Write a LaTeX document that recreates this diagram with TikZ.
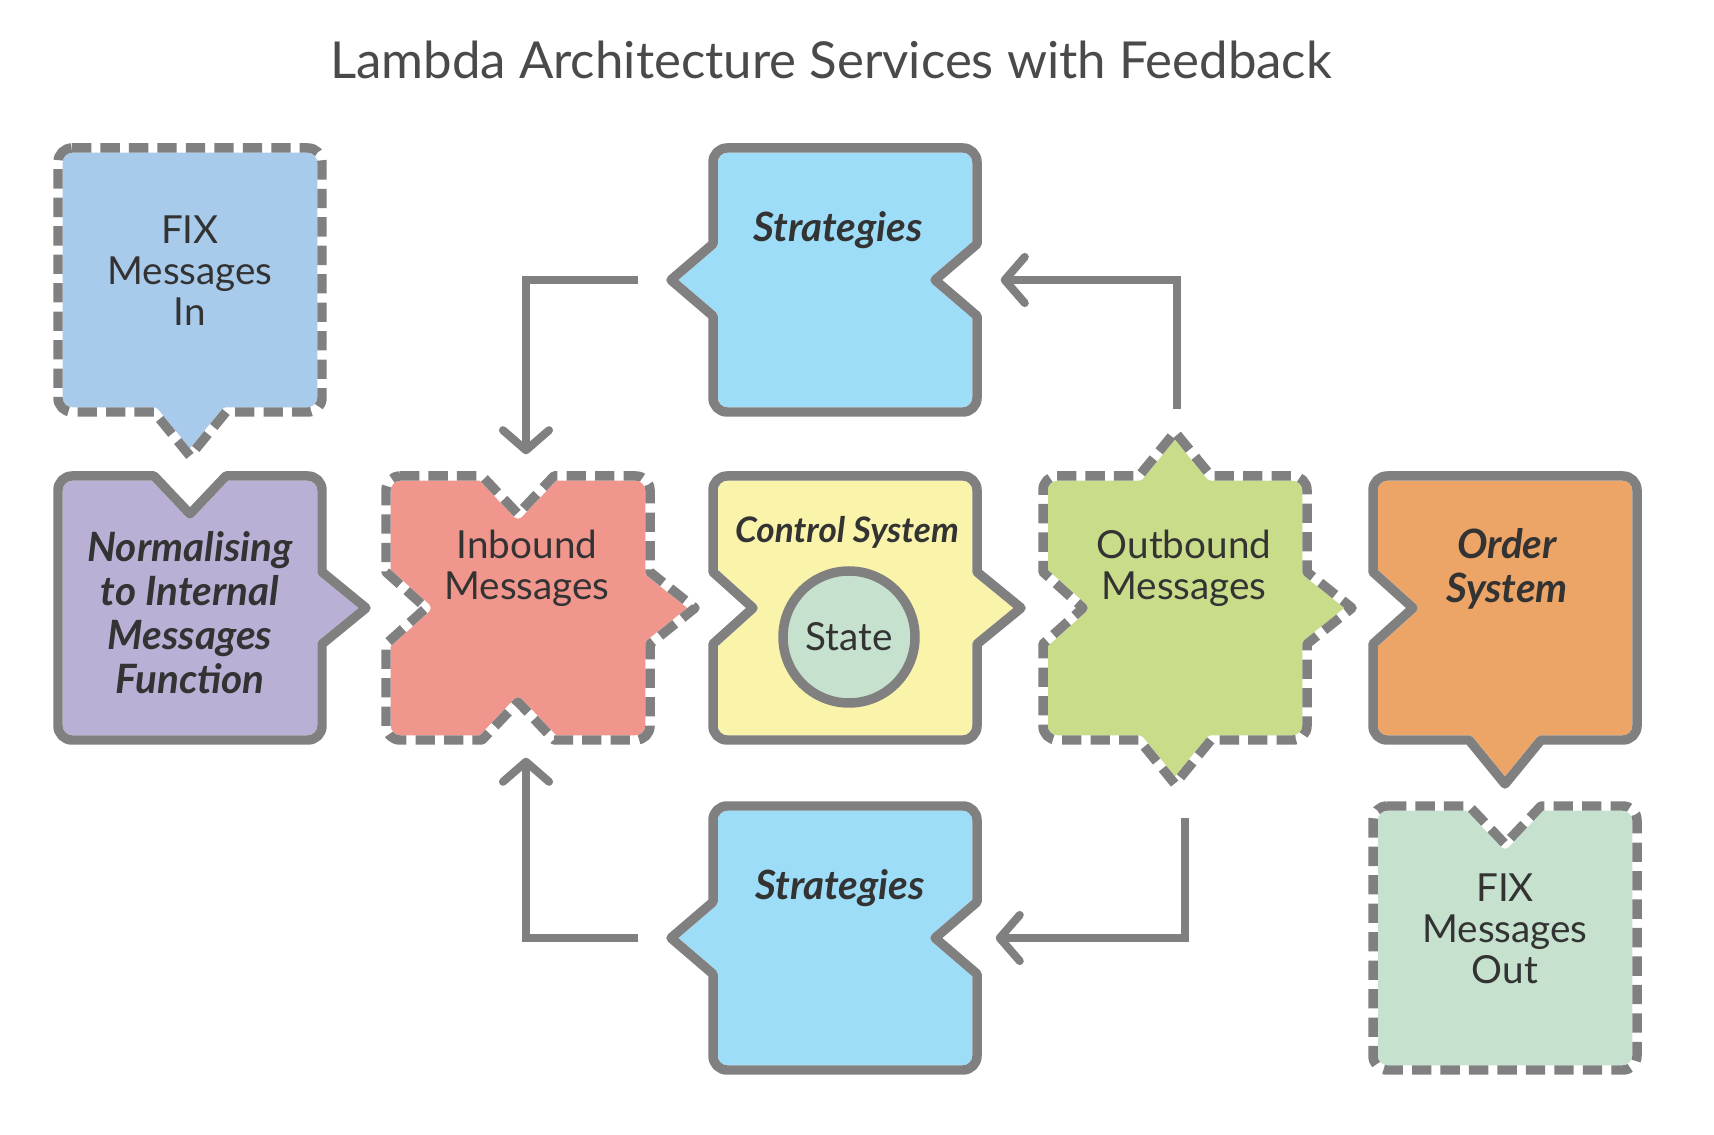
\documentclass[tikz,border=0pt]{standalone}
\usepackage{fontspec}
\setmainfont{Lato}
\usetikzlibrary{arrows.meta}

\definecolor{edgegrey}{HTML}{808080}
\definecolor{inkgrey}{HTML}{333333}
\definecolor{titlegrey}{HTML}{4A4A4A}
\definecolor{fixinblue}{HTML}{A9CBEB}
\definecolor{normlilac}{HTML}{BAB0D6}
\definecolor{inboundred}{HTML}{F0968D}
\definecolor{controlyellow}{HTML}{FAF3AA}
\definecolor{statemint}{HTML}{C6E2CF}
\definecolor{outboundgreen}{HTML}{C9DC8A}
\definecolor{orderorange}{HTML}{ECA567}
\definecolor{stratblue}{HTML}{9EDDF8}

% half size, corner radius, half width of a tab or notch
\newcommand{\hs}{1.32}
\newcommand{\rc}{0.14}
\newcommand{\tw}{0.36}
% depths: top, right, bottom, left (plus = tab, minus = notch)
\newcommand{\tileoutline}[4]{(-\hs+\rc,\hs) -- (-\tw,\hs) -- (0,{\hs+(#1)}) -- (\tw,\hs) -- (\hs-\rc,\hs) arc (90:0:\rc)
  -- (\hs,\tw) -- ({\hs+(#2)},0) -- (\hs,-\tw) -- (\hs,-\hs+\rc) arc (0:-90:\rc)
  -- (\tw,-\hs) -- (0,{-\hs-(#3)}) -- (-\tw,-\hs) -- (-\hs+\rc,-\hs) arc (-90:-180:\rc)
  -- (-\hs,-\tw) -- ({-\hs-(#4)},0) -- (-\hs,\tw) -- (-\hs,\hs-\rc) arc (180:90:\rc) -- cycle}
\newcommand{\tile}[7]{%
  \begin{scope}[shift={(#3)}]
    \filldraw[tileline, draw=white, fill=#1] \tileoutline{#4}{#5}{#6}{#7};
    \draw[#2] \tileoutline{#4}{#5}{#6}{#7};
  \end{scope}}

\begin{document}
\begin{tikzpicture}[
  tileline/.style={line width=2.7pt, line join=round},
  solidedge/.style={tileline, draw=edgegrey},
  dashedge/.style={tileline, draw=edgegrey, dash pattern=on 5.5pt off 2.6pt},
  tilearea/.style={minimum size=2.74cm, inner sep=0pt},
  plaintext/.style={text=inkgrey, align=center, inner sep=0pt, font=\fontsize{11}{11.7}\selectfont},
  heavytext/.style={text=inkgrey, align=center, inner sep=0pt, font=\fontsize{11.5}{12.5}\selectfont\bfseries\itshape},
  flow/.style={draw=edgegrey, line width=2.3pt, -{Straight Barb[length=0.2cm, width=0.46cm, round]}}
]
\useasboundingbox (0,0) rectangle (17.14,11.34);

\node[text=titlegrey, font=\fontsize{14.5}{16}\selectfont] (title) at (8.31,10.74) {Lambda Architecture Services with Feedback};

\node[tilearea] (fixin) at (1.90,8.54) {};
\node[tilearea] (norm) at (1.90,5.26) {};
\node[tilearea] (inbound) at (5.18,5.26) {};
\node[tilearea] (control) at (8.45,5.26) {};
\node[tilearea] (outbound) at (11.75,5.26) {};
\node[tilearea] (order) at (15.05,5.26) {};
\node[tilearea] (fixout) at (15.05,1.96) {};
\node[tilearea] (strat1) at (8.45,8.54) {};
\node[tilearea] (strat2) at (8.45,1.96) {};

\tile{fixinblue}{dashedge}{fixin}{0}{0}{0.44}{0}
\tile{normlilac}{solidedge}{norm}{-0.38}{0.44}{0}{0}
\tile{inboundred}{dashedge}{inbound}{-0.38}{0.45}{-0.38}{-0.40}
\tile{controlyellow}{solidedge}{control}{0}{0.44}{0}{-0.40}
\tile{outboundgreen}{dashedge}{outbound}{0.44}{0.45}{0.44}{-0.40}
\tile{orderorange}{solidedge}{order}{0}{0}{0.44}{-0.40}
\tile{statemint}{dashedge}{fixout}{-0.38}{0}{0}{0}
\tile{stratblue}{solidedge}{strat1}{0}{-0.42}{0}{0.42}
\tile{stratblue}{solidedge}{strat2}{0}{-0.42}{0}{0.42}

\node[plaintext] (fixin-t) at (1.90,8.63) {FIX\\Messages\\In};
\node[heavytext] (norm-t) at (1.90,5.21) {Normalising\\to Internal\\Messages\\Function};
\node[plaintext] (inbound-t) at (5.27,5.66) {Inbound\\Messages};
\node[heavytext, font=\fontsize{10}{11}\selectfont\bfseries\itshape] (control-t) at (8.47,6.02) {Control System};
\node[circle, draw=edgegrey, line width=2.7pt, fill=statemint, minimum size=1.32cm, inner sep=0pt,
  text=inkgrey, font=\fontsize{11}{12}\selectfont] (state) at (8.49,4.97) {State};
\node[plaintext] (outbound-t) at (11.84,5.66) {Outbound\\Messages};
\node[heavytext] (order-t) at (15.07,5.65) {Order\\System};
\node[plaintext] (fixout-t) at (15.05,2.05) {FIX\\Messages\\Out};
\node[heavytext] (strat1-t) at (8.38,9.04) {Strategies};
\node[heavytext] (strat2-t) at (8.40,2.46) {Strategies};

\draw[flow] ([xshift=-0.69cm]strat1.west) -| ([xshift=0.08cm, yshift=0.16cm]inbound.north);
\draw[flow] ([xshift=0.02cm, yshift=0.61cm]outbound.north) |- ([xshift=0.18cm]strat1.east);
\draw[flow] ([xshift=0.1cm, yshift=-0.72cm]outbound.south) |- ([xshift=0.13cm]strat2.east);
\draw[flow] ([xshift=-0.69cm]strat2.west) -| ([xshift=0.08cm, yshift=-0.12cm]inbound.south);
\end{tikzpicture}
\end{document}
